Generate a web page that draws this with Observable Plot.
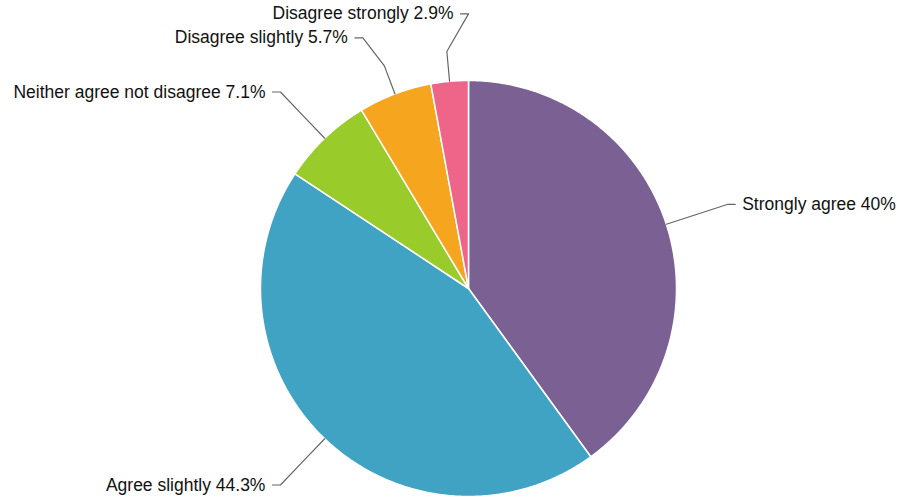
<!DOCTYPE html>
<html>
<head>
<meta charset="utf-8">
<script src="https://cdn.jsdelivr.net/npm/d3@7"></script>
<script src="https://cdn.jsdelivr.net/npm/@observablehq/plot@0.6"></script>
<style>
  html, body { margin: 0; padding: 0; background: #fff; }
  #chart svg { display: block; }
</style>
</head>
<body>
<div id="chart"></div>
<script>
// ---- data ----
const categories = ["Strongly agree", "Agree slightly", "Neither agree not disagree", "Disagree slightly", "Disagree strongly"];
const values = [40, 44.3, 7.1, 5.7, 2.9];
const valueLabels = ["40%", "44.3%", "7.1%", "5.7%", "2.9%"];
const colors = ["#7b6093", "#41a3c3", "#99cb2b", "#f5a51e", "#ef6489"];

// ---- layout ----
const W = 902, H = 501;
const cx = 468, cy = 288, r = 208;
const R = 272;         // elbow radius for leader lines
const spacing = 24;    // min vertical gap between labels

const arcs = d3.pie().sort(null).value(d => d.value)(
  categories.map((c, i) => ({key: c, value: values[i], color: colors[i], label: `${c} ${valueLabels[i]}`}))
);
const pt = (a, rad) => [cx + rad * Math.sin(a), cy - rad * Math.cos(a)];

// slice polygons
const slicePts = [];
for (const a of arcs) {
  const n = Math.max(2, Math.ceil((a.endAngle - a.startAngle) / 0.01));
  slicePts.push({key: a.data.key, color: a.data.color, x: cx, y: cy});
  for (let k = 0; k <= n; k++) {
    const ang = a.startAngle + (a.endAngle - a.startAngle) * k / n;
    const [x, y] = pt(ang, r);
    slicePts.push({key: a.data.key, color: a.data.color, x, y});
  }
  slicePts.push({key: a.data.key, color: a.data.color, x: cx, y: cy});
}

// labels
const labels = arcs.map(a => {
  const mid = (a.startAngle + a.endAngle) / 2;
  const side = Math.sin(mid) >= 0 ? 1 : -1;
  const [ex, ey] = pt(mid, R);
  return {key: a.data.key, label: a.data.label, mid, side, y: ey};
});
for (const s of [1, -1]) {
  const grp = labels.filter(l => l.side === s).sort((a, b) => a.y - b.y);
  for (let it = 0; it < 50; it++) {
    for (let i = 1; i < grp.length; i++) {
      const gap = grp[i].y - grp[i - 1].y;
      if (gap < spacing) {
        const d = (spacing - gap) / 2;
        grp[i].y += d; grp[i - 1].y -= d;
      }
    }
  }
}
const leaderPts = [];
for (const l of labels) {
  const dy = l.y - cy;
  l.ex = cx + l.side * Math.sqrt(Math.max(0, R * R - dy * dy));
  l.sx = l.ex + l.side * 8;
  l.tx = l.sx + l.side * 7;
  const p0 = pt(l.mid, r), p1 = pt(l.mid, r + 30);
  [[p0[0], p0[1]], [p1[0], p1[1]], [l.ex, l.y], [l.sx, l.y]].forEach(([x, y]) => leaderPts.push({key: l.key, x, y}));
}

const font = "'Liberation Sans', Arial, Helvetica, sans-serif";
const chart = Plot.plot({
  width: W, height: H,
  margin: 0,
  x: {domain: [0, W], range: [0, W], axis: null},
  y: {domain: [0, H], range: [0, H], axis: null},
  color: {type: "identity"},
  style: {fontFamily: font, background: "#fff"},
  marks: [
    Plot.line(slicePts, {x: "x", y: "y", z: "key", fill: "color", stroke: "#fff", strokeWidth: 1.5, curve: "linear", strokeLinejoin: "round"}),
    Plot.line(leaderPts, {x: "x", y: "y", z: "key", stroke: "#666", strokeWidth: 1.2, curve: "linear"}),
    Plot.text(labels.filter(l => l.side > 0), {x: "tx", y: "y", text: "label", textAnchor: "start", fontSize: 17.5, fill: "#111"}),
    Plot.text(labels.filter(l => l.side < 0), {x: "tx", y: "y", text: "label", textAnchor: "end", fontSize: 17.5, fill: "#111"})
  ]
});
document.getElementById("chart").appendChild(chart);
</script>
</body>
</html>
